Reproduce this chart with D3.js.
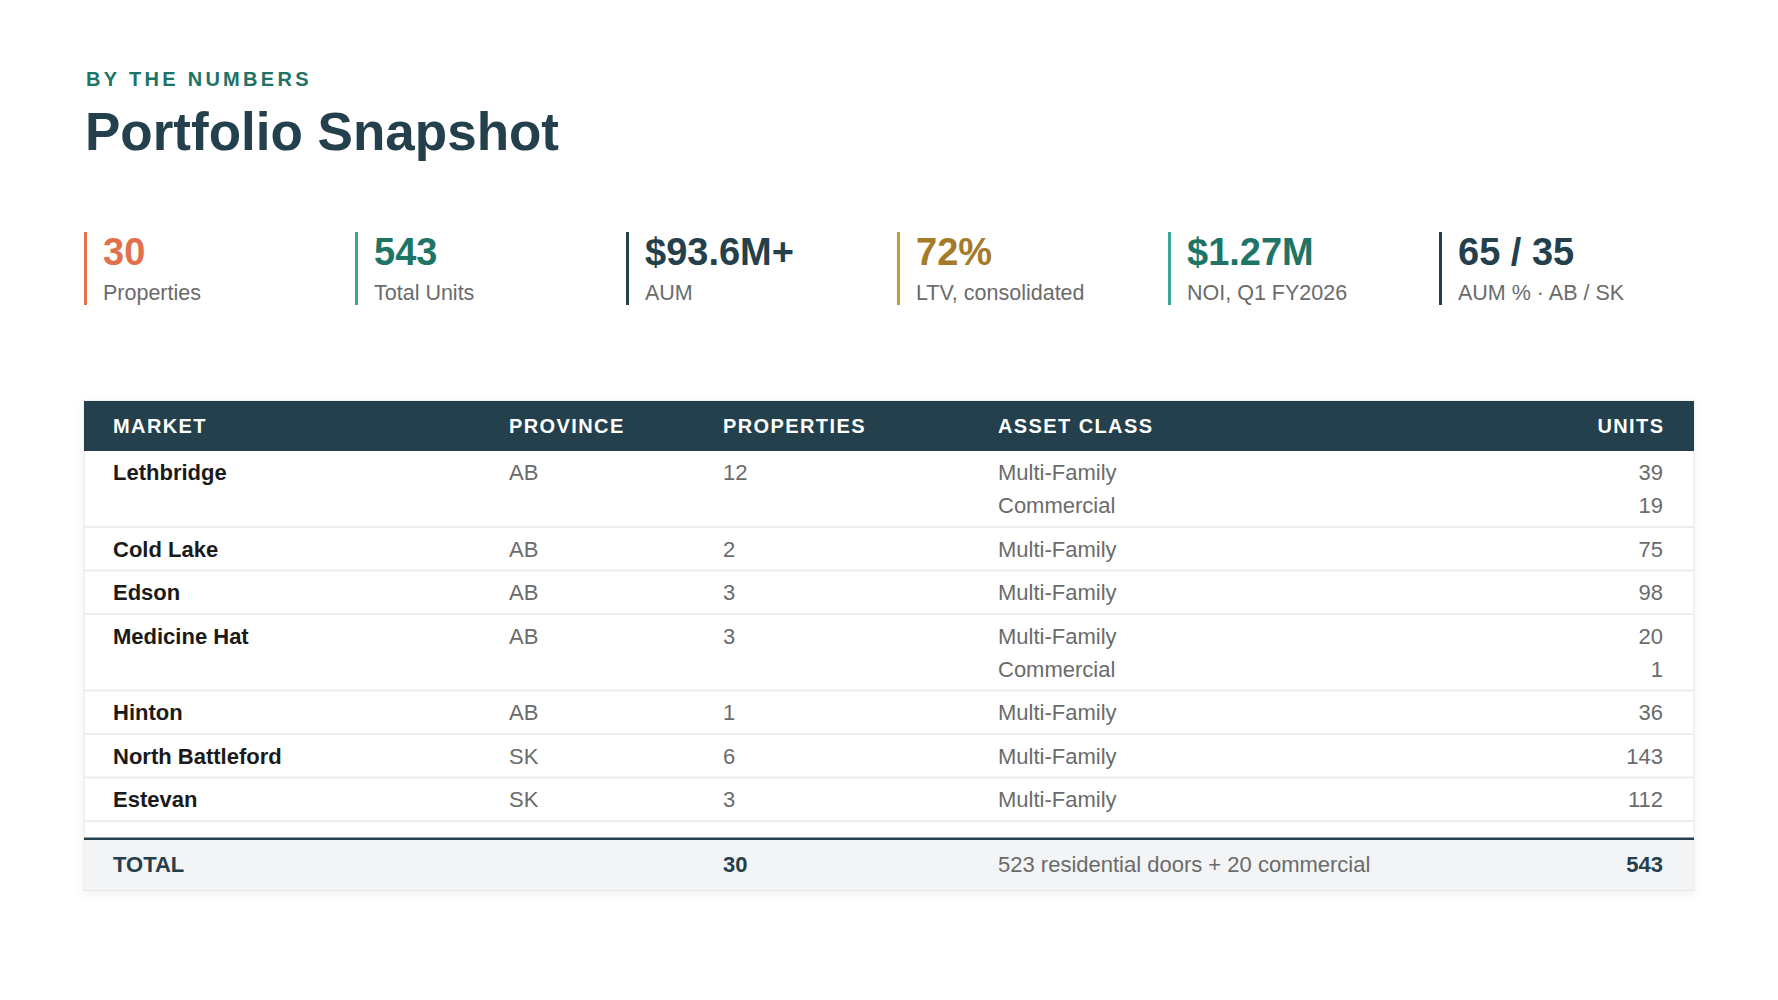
<!DOCTYPE html>
<html>
<head>
<meta charset="utf-8">
<script src="https://cdn.jsdelivr.net/npm/d3@7"></script>
<style>
  html, body { margin: 0; padding: 0; background: #fff; }
  svg text { font-family: "Liberation Sans", Arial, Helvetica, sans-serif; }
</style>
</head>
<body>
<div id="chart"></div>
<script>
// KPI strip
const kpiValues = ["30", "543", "$93.6M+", "72%", "$1.27M", "65 / 35"];
const kpiLabels = ["Properties", "Total Units", "AUM", "LTV, consolidated", "NOI, Q1 FY2026", "AUM % \u00b7 AB / SK"];

// table data
const columns = ["MARKET", "PROVINCE", "PROPERTIES", "ASSET CLASS", "UNITS"];
const markets = ["Lethbridge", "Cold Lake", "Edson", "Medicine Hat", "Hinton", "North Battleford", "Estevan"];
const provinces = ["AB", "AB", "AB", "AB", "AB", "SK", "SK"];
const propertyCounts = [12, 2, 3, 3, 1, 6, 3];
const assetClasses = [["Multi-Family", "Commercial"], ["Multi-Family"], ["Multi-Family"], ["Multi-Family", "Commercial"], ["Multi-Family"], ["Multi-Family"], ["Multi-Family"]];
const unitCounts = [[39, 19], [75], [98], [20, 1], [36], [143], [112]];
const totalRow = ["TOTAL", "", 30, "523 residential doors + 20 commercial", 543];

const kpiColors = ["#e2704e", "#1e7565", "#23404c", "#a57a28", "#1e7565", "#23404c"];
const kpiBarColors = ["#e2704e", "#3aa696", "#23404c", "#c99a3a", "#3aa696", "#23404c"];
const dark = "#23404c", grey = "#6b6b6b";

const W = 1778, H = 1000;
const svg = d3.select("#chart").append("svg")
    .attr("width", W)
    .attr("height", H);

const defs = svg.append("defs");
defs.append("filter").attr("id", "shadow")
    .attr("x", "-5%").attr("y", "-5%").attr("width", "110%").attr("height", "120%")
  .append("feDropShadow")
    .attr("dx", 0).attr("dy", 3).attr("stdDeviation", 5)
    .attr("flood-color", "#000").attr("flood-opacity", 0.06);

// Headings
svg.append("text")
    .attr("x", 86).attr("y", 86)
    .attr("fill", "#1d7366")
    .style("font-size", "20px").style("font-weight", "bold")
    .style("letter-spacing", "3.3px")
    .text("BY THE NUMBERS");

svg.append("text")
    .attr("x", 85).attr("y", 150)
    .attr("fill", dark)
    .style("font-size", "53px").style("font-weight", "bold")
    .text("Portfolio Snapshot");

// KPI strip
const kx = d3.scaleBand()
    .domain(d3.range(kpiValues.length))
    .range([84, 84 + 271 * 6])
    .paddingInner(0);

const kpi = svg.append("g").selectAll("g")
  .data(kpiValues)
  .join("g")
    .attr("transform", (d, i) => `translate(${kx(i)},0)`);

kpi.append("rect")
    .attr("x", 0).attr("y", 232)
    .attr("width", 3).attr("height", 73)
    .attr("fill", (d, i) => kpiBarColors[i]);

kpi.append("text")
    .attr("x", 19).attr("y", 265)
    .attr("fill", (d, i) => kpiColors[i])
    .style("font-size", "38px").style("font-weight", "bold")
    .text(d => d);

kpi.append("text")
    .attr("x", 19).attr("y", 300)
    .attr("fill", grey)
    .style("font-size", "21.5px")
    .text((d, i) => kpiLabels[i]);

// Table
const tLeft = 84, tRight = 1694;
const headTop = 401, headH = 50;
const lineH = 33, rowPad = 5.25;

const colX = d3.scaleOrdinal()
    .domain(columns)
    .range([113, 509, 723, 998, 1663]);
const colAnchor = c => c === "UNITS" ? "end" : "start";

const rows = markets.map((m, i) => ({
  market: m,
  province: provinces[i],
  props: propertyCounts[i],
  classes: assetClasses[i],
  units: unitCounts[i]
}));
const rowHeights = rows.map(r => r.classes.length * lineH + rowPad * 2);
const rowTops = rowHeights.map((h, i) => headTop + headH + d3.sum(rowHeights.slice(0, i)));
const bodyBottom = headTop + headH + d3.sum(rowHeights);
const totalTop = bodyBottom + 17, totalH = 52;

const table = svg.append("g");

// card background with shadow + border
table.append("rect")
    .attr("x", tLeft).attr("y", headTop)
    .attr("width", tRight - tLeft).attr("height", totalTop + totalH - headTop)
    .attr("fill", "#fff")
    .attr("stroke", "#e6e6e6").attr("stroke-width", 1)
    .attr("filter", "url(#shadow)");

// header band
table.append("rect")
    .attr("x", tLeft).attr("y", headTop)
    .attr("width", tRight - tLeft).attr("height", headH)
    .attr("fill", dark);

table.append("g").selectAll("text")
  .data(columns)
  .join("text")
    .attr("x", d => colAnchor(d) === "end" ? colX(d) + 1.4 : colX(d))
    .attr("y", headTop + headH / 2)
    .attr("dy", "0.35em")
    .attr("text-anchor", colAnchor)
    .attr("fill", "#fff")
    .style("font-size", "20px").style("font-weight", "bold")
    .style("letter-spacing", "1.4px")
    .text(d => d);

// body rows
const row = table.append("g").selectAll("g")
  .data(rows)
  .join("g")
    .attr("transform", (d, i) => `translate(0,${rowTops[i]})`);

row.append("line")
    .attr("x1", tLeft + 0.5).attr("x2", tRight - 0.5)
    .attr("y1", (d, i) => rowHeights[i] - 0.5).attr("y2", (d, i) => rowHeights[i] - 0.5)
    .attr("stroke", "#e8e8e8").attr("stroke-width", 1.5);

const firstY = rowPad + lineH / 2;

row.append("text")
    .attr("x", colX("MARKET")).attr("y", firstY).attr("dy", "0.35em")
    .attr("fill", "#1a1a1a")
    .style("font-size", "22px").style("font-weight", "bold")
    .text(d => d.market);

row.append("text")
    .attr("x", colX("PROVINCE")).attr("y", firstY).attr("dy", "0.35em")
    .attr("fill", grey).style("font-size", "22px")
    .text(d => d.province);

row.append("text")
    .attr("x", colX("PROPERTIES")).attr("y", firstY).attr("dy", "0.35em")
    .attr("fill", grey).style("font-size", "22px")
    .text(d => d.props);

row.selectAll("text.cls")
  .data(d => d.classes)
  .join("text")
    .attr("class", "cls")
    .attr("x", colX("ASSET CLASS")).attr("y", (d, j) => firstY + j * lineH).attr("dy", "0.35em")
    .attr("fill", grey).style("font-size", "22px")
    .text(d => d);

row.selectAll("text.units")
  .data(d => d.units)
  .join("text")
    .attr("class", "units")
    .attr("x", colX("UNITS")).attr("y", (d, j) => firstY + j * lineH).attr("dy", "0.35em")
    .attr("text-anchor", "end")
    .attr("fill", grey).style("font-size", "22px")
    .text(d => d);

// total row
table.append("rect")
    .attr("x", tLeft + 0.5).attr("y", totalTop)
    .attr("width", tRight - tLeft - 1).attr("height", totalH - 0.5)
    .attr("fill", "#f2f4f5");

table.append("rect")
    .attr("x", tLeft).attr("y", totalTop - 1)
    .attr("width", tRight - tLeft).attr("height", 2.5)
    .attr("fill", dark);

table.append("g").selectAll("text")
  .data(totalRow)
  .join("text")
    .attr("x", (d, i) => colX(columns[i]))
    .attr("y", totalTop + totalH / 2)
    .attr("dy", "0.35em")
    .attr("text-anchor", (d, i) => colAnchor(columns[i]))
    .attr("fill", (d, i) => i === 3 ? grey : dark)
    .style("font-size", "22px")
    .style("font-weight", (d, i) => i === 3 ? "normal" : "bold")
    .text(d => d);
</script>
</body>
</html>
